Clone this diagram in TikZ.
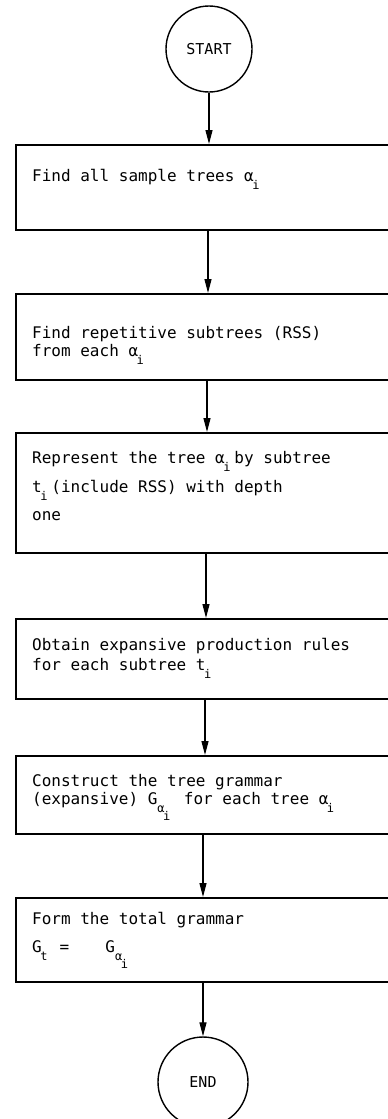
\documentclass[tikz,border=0pt]{standalone}
\usepackage{fontspec}
\setmonofont{DejaVu Sans Mono}
\usetikzlibrary{arrows.meta}
% subscript hanging below the baseline, taking no width
\newcommand\lowsub[1]{\rlap{\hspace{-1.5pt}\raisebox{-8.5pt}{\fontsize{12}{12}\selectfont #1}}}
% subscript hanging below the baseline, taking its width
\newcommand\lowsubw[1]{\raisebox{-8pt}{\fontsize{12}{12}\selectfont #1}}
\begin{document}
\begin{tikzpicture}[x=1pt,y=-1pt,
  font=\ttfamily\fontsize{16}{18}\selectfont,
  box/.style={draw, line width=1.8pt, rectangle, minimum width=390pt, anchor=north west, inner sep=0pt},
  circ/.style={draw, circle, line width=1.4pt, minimum size=86pt, inner sep=0pt, font=\ttfamily\fontsize{15}{15}\selectfont},
  arr/.style={line width=1.3pt, -{Triangle[length=14pt,width=7pt]}},
  txt/.style={anchor=base west, inner sep=0pt}]
\useasboundingbox (0,0) rectangle (388,1119);
\clip (0,0) rectangle (388,1119);
% circles
\node[circ] (start) at (209,49) {START};
\node[circ, minimum size=90pt] (end) at (203,1082) {END};
% boxes
\node[box, minimum height=85pt] (b1) at (15,144) {};
\node[box, minimum height=86pt] (b2) at (15,293) {};
\node[box, minimum height=120pt] (b3) at (15,432) {};
\node[box, minimum height=80pt] (b4) at (15,618) {};
\node[box, minimum height=78pt] (b5) at (15,755) {};
\node[box, minimum height=84pt] (b6) at (15,897) {};
% arrow columns
\coordinate (a2) at (208,0);
\coordinate (a3) at (207,0);
\coordinate (a4) at (206,0);
\coordinate (a5) at (205,0);
\coordinate (a6) at (203,0);
% connectors
\draw[arr] (start.south) -- (start.south |- b1.north);
\draw[arr] (b1.south -| a2) -- (b2.north -| a2);
\draw[arr] (b2.south -| a3) -- (b3.north -| a3);
\draw[arr] (b3.south -| a4) -- (b4.north -| a4);
\draw[arr] (b4.south -| a5) -- (b5.north -| a5);
\draw[arr] (b5.south -| a6) -- (b6.north -| a6);
\draw[arr] (b6.south -| end) -- (end.north);
% texts
\node[txt] (t1) at (32,181) {Find all sample trees α\lowsub{i}};
\node[txt] (t2a) at (32,338) {Find repetitive subtrees (RSS)};
\node[txt] (t2b) at (32,356) {from each α\lowsub{i}};
\node[txt] (t3a) at (32,463) {Represent the tree α\lowsub{i} by subtree};
\node[txt] (t3b) at (32,492) {t\lowsub{i} (include RSS) with depth};
\node[txt] (t3c) at (32,520) {one};
\node[txt] (t4a) at (32,650) {Obtain expansive production rules};
\node[txt] (t4b) at (32,670) {for each subtree t\lowsub{i}};
\node[txt] (t5a) at (32,786) {Construct the tree grammar};
\node[txt] (t5b) at (32,804) {(expansive) G\lowsubw{α\lowsub{i}}\ \ for each tree α\lowsub{i}};
\node[txt] (t6a) at (32,924) {Form the total grammar};
\node[txt] (t6b) at (32,952) {\makebox[27.4pt][l]{G\lowsub{t}}\makebox[45.8pt][l]{=}G\lowsubw{α\lowsub{i}}};
\end{tikzpicture}
\end{document}
